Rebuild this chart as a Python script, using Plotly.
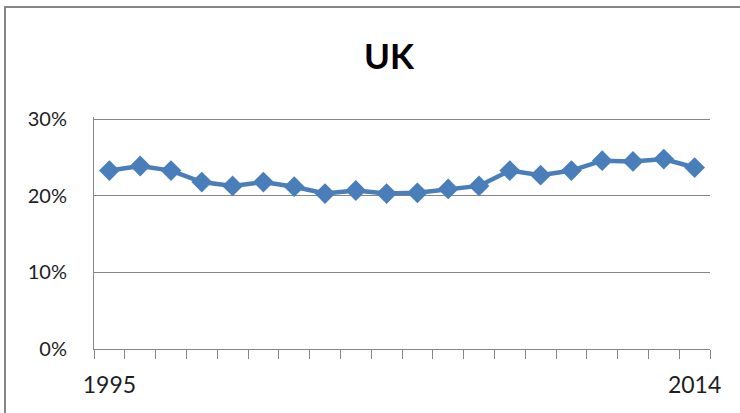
import plotly.graph_objects as go

# Annual share for the UK, 1995-2014
years = list(range(1995, 2015))
share = [23.3, 23.9, 23.3, 21.8, 21.3, 21.8, 21.2, 20.3, 20.7, 20.3,
         20.4, 20.9, 21.3, 23.3, 22.7, 23.3, 24.6, 24.5, 24.8, 23.7]
y_ticks = [0, 10, 20, 30]
x_labels = {1995: "1995", 2014: "2014"}

blue = "#4a7ebb"
gray = "#868686"
text_color = "#1e1e1e"
font_family = "Lato, 'Open Sans', sans-serif"

# category boundaries for the small tick marks under the x axis
bounds = [y - 0.5 for y in years] + [years[-1] + 0.5]

fig = go.Figure()
fig.add_trace(go.Scatter(
    x=years, y=[v / 100 for v in share],
    mode="lines+markers",
    line=dict(color=blue, width=4.5),
    marker=dict(symbol="diamond", size=16, color=blue),
    hoverinfo="x+y",
))

# plot area spans x 94..710 px and y 117..349 px
fig.update_layout(
    width=740, height=413,
    margin=dict(l=94, r=30, t=117, b=64),
    paper_bgcolor="white", plot_bgcolor="white",
    showlegend=False,
    title=dict(text="<b>UK</b>", x=389 / 740, xanchor="center",
               y=1 - 57 / 413, yanchor="middle",
               font=dict(family=font_family, size=35, color="black")),
    font=dict(family=font_family, color=text_color),
)

fig.update_xaxes(
    range=[bounds[0], bounds[-1]],
    tickvals=list(x_labels.keys()), ticktext=list(x_labels.values()),
    ticks="", ticklabelstandoff=15,
    tickfont=dict(size=23, family=font_family, color=text_color),
    showgrid=False, zeroline=False,
    showline=True, linecolor=gray, linewidth=1,
    minor=dict(tickvals=bounds, ticks="outside", ticklen=9,
               tickcolor=gray, tickwidth=1, showgrid=False),
)

fig.update_yaxes(
    range=[0, 0.303],
    tickvals=[t / 100 for t in y_ticks],
    ticktext=[f"{t}%" for t in y_ticks],
    ticks="", ticklabelstandoff=22,
    tickfont=dict(size=20, family=font_family, color=text_color),
    showgrid=True, gridcolor=gray, gridwidth=1,
    zeroline=False,
    showline=True, linecolor=gray, linewidth=1,
)

# chart frame: left and top edges (the others run past the page)
px_x = lambda px: (px - 94) / 616
px_y = lambda py: (349 - py) / 232
fig.add_shape(type="line", xref="paper", yref="paper",
              x0=px_x(5), x1=px_x(5), y0=px_y(420), y1=px_y(7),
              line=dict(color=gray, width=2))
fig.add_shape(type="line", xref="paper", yref="paper",
              x0=px_x(4), x1=px_x(745), y0=px_y(7), y1=px_y(7),
              line=dict(color=gray, width=2))

fig.write_html("out.html")
